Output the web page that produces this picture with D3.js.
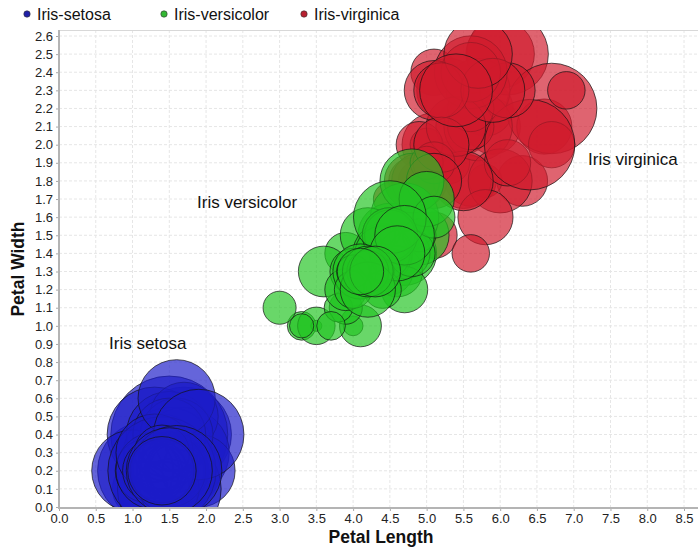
<!DOCTYPE html>
<html>
<head>
<meta charset="utf-8">
<script src="https://cdn.jsdelivr.net/npm/d3@7"></script>
<style>
  body { margin: 0; background: #fff; }
  svg text { font-family: Arial, "Liberation Sans", sans-serif; }
</style>
</head>
<body>
<div id="chart"></div>
<script>
// species names and colours
var species = ["Iris-setosa", "Iris-versicolor", "Iris-virginica"];
var colors = ["#1c1cc8", "#22c422", "#d01a2c"];
var legendColors = ["#2020a8", "#33b833", "#b82030"];
var annotations = ["Iris setosa", "Iris versicolor", "Iris virginica"];

// petal length, petal width, sepal width (bubble size) per species
var setosaPL = [1.4,1.4,1.3,1.5,1.4,1.7,1.4,1.5,1.4,1.5,1.5,1.6,1.4,1.1,1.2,1.5,1.3,1.4,1.7,1.5,1.7,1.5,1.0,1.7,1.9,1.6,1.6,1.5,1.4,1.6,1.6,1.5,1.5,1.4,1.5,1.2,1.3,1.5,1.3,1.5,1.3,1.3,1.3,1.6,1.9,1.4,1.6,1.4,1.5,1.4];
var setosaPW = [0.2,0.2,0.2,0.2,0.2,0.4,0.3,0.2,0.2,0.1,0.2,0.2,0.1,0.1,0.2,0.4,0.4,0.3,0.3,0.3,0.2,0.4,0.2,0.5,0.2,0.2,0.4,0.2,0.2,0.2,0.2,0.4,0.1,0.2,0.1,0.2,0.2,0.1,0.2,0.2,0.3,0.3,0.2,0.6,0.4,0.3,0.2,0.2,0.2,0.2];
var setosaSW = [3.5,3.0,3.2,3.1,3.6,3.9,3.4,3.4,2.9,3.1,3.7,3.4,3.0,3.0,4.0,4.4,3.9,3.5,3.8,3.8,3.4,3.7,3.6,3.3,3.4,3.0,3.4,3.5,3.4,3.2,3.1,3.4,4.1,4.2,3.1,3.2,3.5,3.1,3.0,3.4,3.5,2.3,3.2,3.5,3.8,3.0,3.8,3.2,3.7,3.3];

var versicolorPL = [4.7,4.5,4.9,4.0,4.6,4.5,4.7,3.3,4.6,3.9,3.5,4.2,4.0,4.7,3.6,4.4,4.5,4.1,4.5,3.9,4.8,4.0,4.9,4.7,4.3,4.4,4.8,5.0,4.5,3.5,3.8,3.7,3.9,5.1,4.5,4.5,4.7,4.4,4.1,4.0,4.4,4.6,4.0,3.3,4.2,4.2,4.2,4.3,3.0,4.1];
var versicolorPW = [1.4,1.5,1.5,1.3,1.5,1.3,1.6,1.0,1.3,1.4,1.0,1.5,1.0,1.4,1.3,1.4,1.5,1.0,1.5,1.1,1.8,1.3,1.5,1.2,1.3,1.4,1.4,1.7,1.5,1.0,1.1,1.0,1.2,1.6,1.5,1.6,1.5,1.3,1.3,1.3,1.2,1.4,1.2,1.0,1.3,1.2,1.3,1.3,1.1,1.3];
var versicolorSW = [3.2,3.2,3.1,2.3,2.8,2.8,3.3,2.4,2.9,2.7,2.0,3.0,2.2,2.9,2.9,3.1,3.0,2.7,2.2,2.5,3.2,2.8,2.5,2.8,2.9,3.0,2.8,3.0,2.9,2.6,2.4,2.4,2.7,2.7,3.0,3.4,3.1,2.3,3.0,2.5,2.6,3.0,2.6,2.3,2.7,3.0,2.9,2.9,2.5,2.8];

var virginicaPL = [6.0,5.1,5.9,5.6,5.8,6.6,4.5,6.3,5.8,6.1,5.1,5.3,5.5,5.0,5.1,5.3,5.5,6.7,6.9,5.0,5.7,4.9,6.7,4.9,5.7,6.0,4.8,4.9,5.6,5.8,6.1,6.4,5.6,5.1,5.6,6.1,5.6,5.5,4.8,5.4,5.6,5.1,5.1,5.9,5.7,5.2,5.0,5.2,5.4,5.1];
var virginicaPW = [2.5,1.9,2.1,1.8,2.2,2.1,1.7,1.8,1.8,2.5,2.0,1.9,2.1,2.0,2.4,2.3,1.8,2.2,2.3,1.5,2.3,2.0,2.0,1.8,2.1,1.8,1.8,1.8,2.1,1.6,1.9,2.0,2.2,1.5,1.4,2.3,2.4,1.8,1.8,2.1,2.4,2.3,1.9,2.3,2.5,2.3,1.9,2.0,2.3,1.8];
var virginicaSW = [3.3,2.7,3.0,2.9,3.0,3.0,2.5,2.9,2.5,3.6,3.2,2.7,3.0,2.5,2.8,3.2,3.0,3.8,2.6,2.2,3.2,2.8,2.8,2.7,3.3,3.2,2.8,3.0,2.8,3.0,2.8,3.8,2.8,2.8,2.6,3.0,3.4,3.1,3.0,3.1,3.1,3.1,2.7,3.2,3.3,3.0,2.5,3.0,3.4,3.0];

// axis ticks
var xTicks = d3.range(0, 18).map(function(i){ return i * 0.5; });   // 0.0 .. 8.5
var yTicks = d3.range(0, 27).map(function(i){ return i / 10; });    // 0.0 .. 2.6

var width = 698, height = 550;
var plotLeft = 59, plotRight = 698, plotTop = 30, plotBottom = 508;

var svg = d3.select("#chart").append("svg")
    .attr("width", width)
    .attr("height", height);

var x = d3.scaleLinear().domain([0, 8.5]).range([59, 684]);
var y = d3.scaleLinear().domain([0, 2.6]).range([507, 36]);
var r = d3.scaleLinear().domain([2.0, 4.4]).range([5.5, 58.5]);

// build points, last series drawn first so green sits over red
var sets = [
    [setosaPL, setosaPW, setosaSW],
    [versicolorPL, versicolorPW, versicolorSW],
    [virginicaPL, virginicaPW, virginicaSW]
];
var points = [];
[2, 1, 0].forEach(function(k){
    var s = sets[k];
    s[0].forEach(function(pl, i){
        points.push({species: k, pl: pl, pw: s[1][i], sw: s[2][i]});
    });
});

// grid
var grid = svg.append("g");
grid.selectAll(".vgrid")
    .data(xTicks.slice(1))
    .enter().append("line")
    .attr("x1", function(d){ return x(d); })
    .attr("x2", function(d){ return x(d); })
    .attr("y1", plotTop)
    .attr("y2", plotBottom)
    .style("stroke", "#e6e6e6")
    .style("stroke-dasharray", "3,2");
grid.selectAll(".hgrid")
    .data(yTicks.slice(1))
    .enter().append("line")
    .attr("x1", plotLeft)
    .attr("x2", plotRight)
    .attr("y1", function(d){ return y(d); })
    .attr("y2", function(d){ return y(d); })
    .style("stroke", "#e6e6e6")
    .style("stroke-dasharray", "3,2");

// top border
svg.append("line")
    .attr("x1", plotLeft).attr("x2", plotRight)
    .attr("y1", plotTop + 0.5).attr("y2", plotTop + 0.5)
    .style("stroke", "#d8d8d8");

// bubbles
svg.append("clipPath").attr("id", "clip")
    .append("rect")
    .attr("x", plotLeft).attr("y", plotTop)
    .attr("width", plotRight - plotLeft).attr("height", plotBottom - plotTop);

svg.append("g")
    .attr("clip-path", "url(#clip)")
    .selectAll("circle")
    .data(points)
    .enter().append("circle")
    .attr("cx", function(d){ return x(d.pl); })
    .attr("cy", function(d){ return y(d.pw); })
    .attr("r", function(d){ return r(d.sw); })
    .style("fill", function(d){ return colors[d.species]; })
    .style("fill-opacity", 0.68)
    .style("stroke", "rgba(20,20,20,0.7)")
    .style("stroke-width", 1);

// axes
var yAxis = svg.append("g")
    .attr("transform", "translate(" + plotLeft + ",0)")
    .call(d3.axisLeft(y).tickValues(yTicks).tickFormat(d3.format(".1f")).tickSize(3).tickPadding(3));
var xAxis = svg.append("g")
    .attr("transform", "translate(0," + plotBottom + ")")
    .call(d3.axisBottom(x).tickValues(xTicks).tickFormat(d3.format(".1f")).tickSize(3).tickPadding(3));

[xAxis, yAxis].forEach(function(a){
    a.select(".domain").remove();
    a.selectAll("line").style("stroke", "#aaa");
    a.selectAll("text")
        .style("font-size", "13px")
        .style("fill", "#222")
        .style("font-family", "Arial, 'Liberation Sans', sans-serif");
});

svg.append("line")
    .attr("x1", plotLeft).attr("x2", plotLeft)
    .attr("y1", plotTop).attr("y2", plotBottom + 1)
    .style("stroke", "#b4b4b4").style("stroke-width", 2);
svg.append("line")
    .attr("x1", plotLeft).attr("x2", plotRight)
    .attr("y1", plotBottom).attr("y2", plotBottom)
    .style("stroke", "#b4b4b4").style("stroke-width", 2);

// axis titles
svg.append("text")
    .attr("x", 381)
    .attr("y", 543)
    .attr("text-anchor", "middle")
    .style("font-size", "17.5px")
    .style("font-weight", "bold")
    .style("fill", "#111")
    .text("Petal Length");

svg.append("text")
    .attr("transform", "translate(24,269) rotate(-90)")
    .attr("text-anchor", "middle")
    .style("font-size", "17.5px")
    .style("font-weight", "bold")
    .style("fill", "#111")
    .text("Petal Width");

// annotations
var annoPos = [[109, 349], [197, 208], [588, 165]];
svg.selectAll(".anno")
    .data(annotations)
    .enter().append("text")
    .attr("x", function(d, i){ return annoPos[i][0]; })
    .attr("y", function(d, i){ return annoPos[i][1]; })
    .style("font-size", "17px")
    .style("fill", "#111")
    .text(function(d){ return d; });

// legend
var legendX = [27, 164, 304];
var legend = svg.selectAll(".legend")
    .data(species)
    .enter().append("g")
    .attr("transform", function(d, i){ return "translate(" + legendX[i] + ",14)"; });
legend.append("circle")
    .attr("r", 3.2)
    .style("fill", function(d, i){ return legendColors[i]; })
    .style("stroke", "#333")
    .style("stroke-width", 0.6);
legend.append("text")
    .attr("x", 10)
    .attr("y", 5.5)
    .style("font-size", "16px")
    .style("fill", "#111")
    .text(function(d){ return d; });
</script>
</body>
</html>
